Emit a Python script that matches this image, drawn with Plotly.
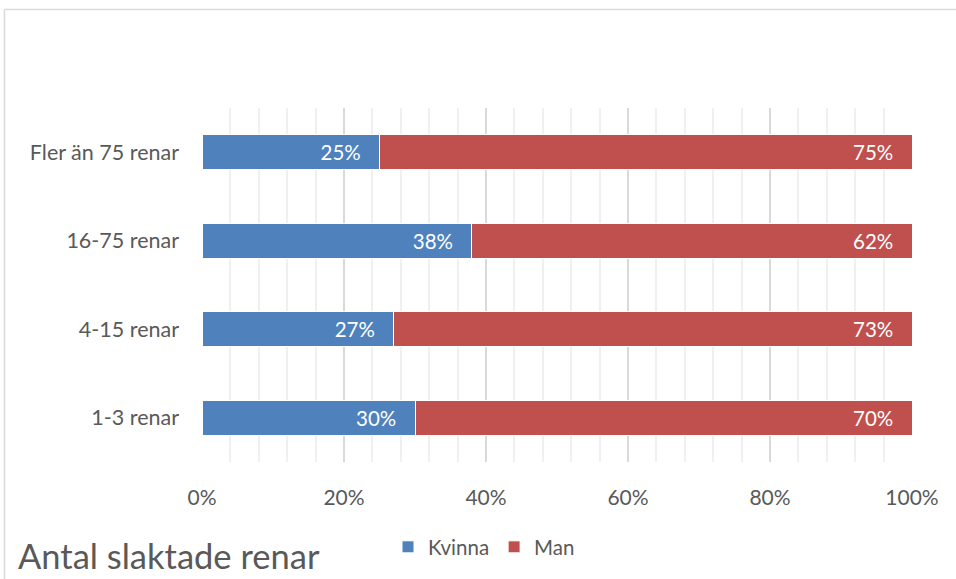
import plotly.graph_objects as go

categories = ["1-3 renar", "4-15 renar", "16-75 renar", "Fler än 75 renar"]
kvinna = [0.30, 0.27, 0.38, 0.25]
man = [0.70, 0.73, 0.62, 0.75]
x_ticks = [0, 0.2, 0.4, 0.6, 0.8, 1.0]
x_ticklabels = ["0%", "20%", "40%", "60%", "80%", "100%"]

W, H = 956, 579
L, R, T, B = 202, 912, 108, 462
FONT = "Lato, 'Open Sans', sans-serif"
GRAY = "#595959"

fig = go.Figure()
fig.add_trace(go.Bar(
    y=categories, x=kvinna, name="Kvinna", orientation="h",
    marker=dict(color="#4F81BD", line=dict(color="#FFFFFF", width=1)),
    texttemplate="%{x:.0%}\u00a0\u00a0\u00a0", textposition="inside",
    insidetextanchor="end", textfont=dict(color="white", size=20.5, family=FONT),
    hoverinfo="skip"))
fig.add_trace(go.Bar(
    y=categories, x=man, name="Man", orientation="h",
    marker=dict(color="#C0504D", line=dict(color="#FFFFFF", width=1)),
    texttemplate="%{x:.0%}\u00a0\u00a0\u00a0", textposition="inside",
    insidetextanchor="end", textfont=dict(color="white", size=20.5, family=FONT),
    hoverinfo="skip"))

def px_x(x):
    return (x - L) / (R - L)

def px_y(y):
    return (B - y) / (B - T)

fig.update_layout(
    width=W, height=H, barmode="stack", bargap=0.6,
    margin=dict(l=L, r=W - R, t=T, b=H - B, pad=0),
    paper_bgcolor="white", plot_bgcolor="white",
    font=dict(family=FONT, color=GRAY, size=21),
    uniformtext=dict(mode=False),
    xaxis=dict(range=[0, 1], tickvals=x_ticks, ticktext=x_ticklabels,
               showgrid=True, gridcolor="#D9D9D9", gridwidth=1.5,
               zeroline=False, showline=False, ticks="",
               ticklabelstandoff=21,
               tickfont=dict(size=21, color=GRAY, family=FONT),
               minor=dict(dtick=0.04, showgrid=True, gridcolor="#F0F0F0", gridwidth=1.5),
               fixedrange=True),
    yaxis=dict(categoryorder="array", categoryarray=categories,
               showgrid=False, zeroline=False, showline=False, ticks="",
               ticklabelstandoff=22,
               tickfont=dict(size=21.5, color=GRAY, family=FONT),
               fixedrange=True),
    showlegend=True,
    legend=dict(orientation="h", x=px_x(388), y=px_y(547), xanchor="left", yanchor="middle",
                font=dict(size=20.5, color=GRAY, family=FONT), traceorder="normal",
                itemwidth=30, tracegroupgap=0, bgcolor="rgba(0,0,0,0)"),
    shapes=[
        dict(type="line", xref="paper", yref="paper", x0=px_x(4.5), x1=px_x(956),
             y0=px_y(9.5), y1=px_y(9.5), line=dict(color="#D9D9D9", width=1.5)),
        dict(type="line", xref="paper", yref="paper", x0=px_x(4.5), x1=px_x(4.5),
             y0=px_y(9.5), y1=px_y(579), line=dict(color="#D9D9D9", width=1.5)),
    ],
    annotations=[
        dict(text="Antal slaktade renar", xref="paper", yref="paper",
             x=px_x(16), y=px_y(555), xanchor="left", yanchor="middle",
             showarrow=False, font=dict(size=34.5, color=GRAY, family=FONT)),
    ],
)

fig.write_html("out.html", config={"displayModeBar": False})

with open("out.html", "r", encoding="utf-8") as f:
    html = f.read()
html = html.replace("<head>", "<head><style>html,body{margin:0;padding:0;overflow:hidden;}</style>", 1)
with open("out.html", "w", encoding="utf-8") as f:
    f.write(html)
